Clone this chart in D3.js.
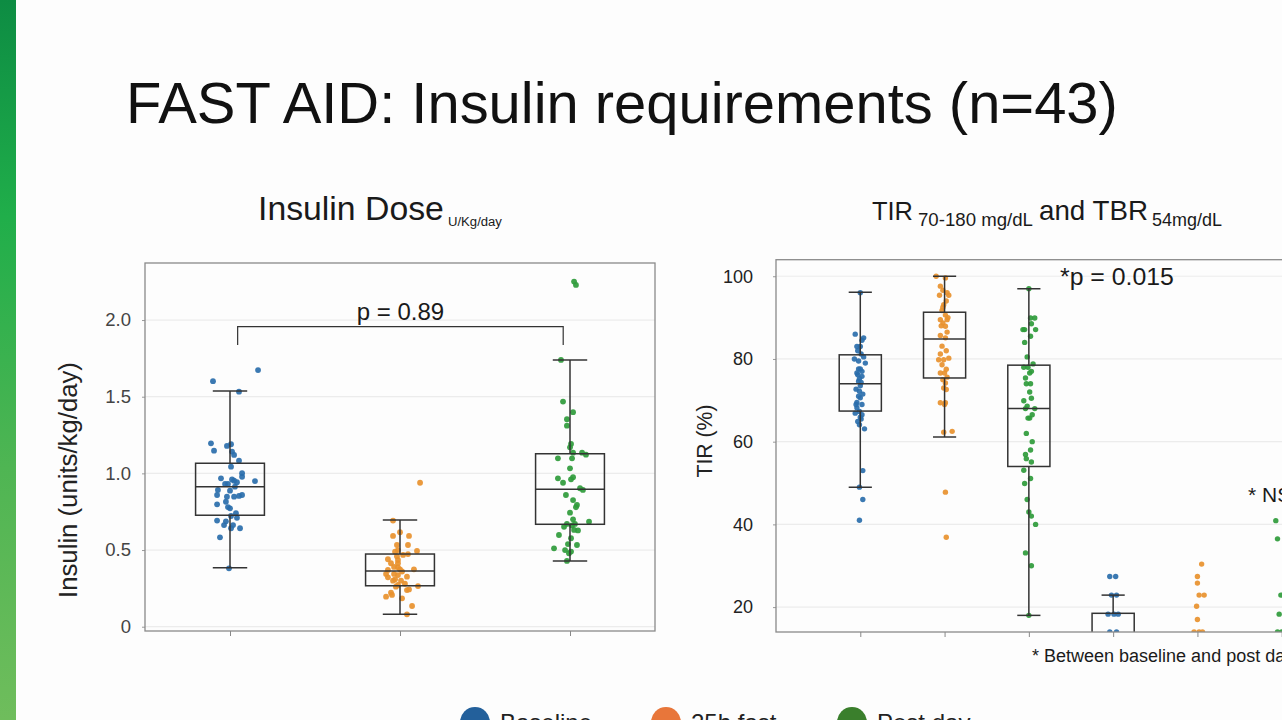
<!DOCTYPE html>
<html>
<head>
<meta charset="utf-8">
<script src="https://cdn.jsdelivr.net/npm/d3@7"></script>
<style>
  body { margin: 0; overflow: hidden; background: #fdfdfd; }
  svg { display: block; font-family: "Liberation Sans", Arial, sans-serif; }
</style>
</head>
<body>
<script>
// ---- data ----
const groups = ["Baseline", "25h fast", "Post day"];
const tirCats = ["TIR Baseline", "TIR 25h fast", "TIR Post day", "TBR Baseline", "TBR 25h fast", "TBR Post day"];
const insulinTicks = [0, 0.5, 1.0, 1.5, 2.0];
const tirTicks = [20, 40, 60, 80, 100];

// box stats: [low whisker, q1, median, q3, high whisker]
const insulinBoxes = [
    [0.385, 0.727, 0.913, 1.066, 1.537],
    [0.081, 0.267, 0.363, 0.474, 0.696],
    [0.429, 0.668, 0.896, 1.128, 1.740]
];
const tirBoxes = [
    [49.0, 67.4, 74.0, 81.0, 96.1],
    [61.1, 75.4, 84.8, 91.3, 100],
    [18.0, 54.0, 68.0, 78.5, 97.0],
    [0, 5, 12, 18.5, 22.9],
    [0, 2, 6, 10, 13],
    [0, 2, 6, 10, 13]
];

// points: [value, jitter as share of category step]
const insulinBaseline = [[1.674, .165], [1.601, -.10], [1.533, .053], [1.196, -.112], [1.148, -.094], [1.179, -.018], [1.190, .006], [1.142, .012], [1.120, .024], [1.083, .053], [1.044, .006], [1.001, .071], [0.978, .071], [0.968, -.053], [0.950, .147], [0.931, -.029], [0.931, -.012], [0.952, .024], [0.942, .041], [0.913, .029], [0.892, -.071], [0.887, 0], [0.859, -.076], [0.859, .071], [0.853, .053], [0.848, .024], [0.848, -.018], [0.815, -.024], [0.798, -.076], [0.772, 0], [0.740, .035], [0.722, .006], [0.692, -.076], [0.687, -.024], [0.663, -.035], [0.663, .018], [0.642, .006], [0.642, .059], [0.583, -.059], [0.381, -.006], [0.780, -.012], [0.710, .041], [0.960, .012]];
const insulinFast = [[0.939, .118], [0.692, -.041], [0.616, 0], [0.592, -.041], [0.592, .053], [0.533, -.018], [0.533, .047], [0.500, -.012], [0.489, -.029], [0.494, .1], [0.474, .047], [0.468, .018], [0.440, -.071], [0.435, -.012], [0.414, -.053], [0.414, -.012], [0.387, -.012], [0.374, 0], [0.374, .082], [0.344, -.082], [0.344, -.035], [0.337, -.012], [0.326, .041], [0.322, -.071], [0.309, -.029], [0.300, .006], [0.272, -.012], [0.265, .106], [0.261, -.024], [0.239, .041], [0.243, .053], [0.222, -.053], [0.207, -.047], [0.196, -.082], [0.185, .012], [0.135, .071], [0.081, .041], [0.39, -.035], [0.36, .012], [0.37, -.071], [0.46, -.018], [0.28, .029], [0.30, -.041]];
const insulinPost = [[2.251, .024], [2.229, .035], [1.740, -.053], [1.468, -.041], [1.399, .018], [1.353, -.018], [1.311, -.018], [1.192, .006], [1.170, 0], [1.135, .018], [1.135, .071], [1.122, .094], [1.098, -.071], [1.098, .012], [1.033, 0], [0.975, .018], [0.961, .006], [0.968, -.071], [0.939, -.041], [0.903, .059], [0.892, .076], [0.859, -.024], [0.826, .018], [0.794, .041], [0.779, .035], [0.744, 0], [0.700, .018], [0.685, .112], [0.670, -.018], [0.652, -.035], [0.660, .012], [0.631, .024], [0.628, .047], [0.598, -.065], [0.577, .006], [0.539, -.012], [0.533, .041], [0.511, -.094], [0.500, -.029], [0.479, -.006], [0.429, -.018], [0.490, .006], [0.670, .029]];

const tirBaseline = [[96.0, 0], [86.0, -.06], [85.1, .04], [83.0, -.04], [83.0, 0], [81.2, .01], [80.0, -.07], [79.0, .06], [77.6, -.02], [77.6, 0], [76.6, -.04], [75.8, .02], [74.6, -.02], [73.5, 0], [72.7, -.05], [72.2, -.01], [71.5, .03], [70.6, 0], [69.0, .02], [68.2, -.04], [67.3, -.01], [66.9, -.06], [65.9, 0], [64.9, -.03], [64.1, -.01], [63.1, .05], [53.0, .03], [49.0, -.01], [46.0, .03], [41.0, -.01], [79.5, -.02], [77.0, .02], [75.2, -.01], [74.3, .01], [69.5, -.04], [66.5, .02], [80.5, .04], [82.0, -.03], [84.5, .02], [71.0, -.02], [69.0, -.05], [65.5, .01], [76.2, -.03]];
const tirFast = [[100, -.10], [99.6, .01], [97.6, -.05], [96.6, -.02], [96.0, .03], [95.4, -.06], [95.4, .05], [93.1, -.01], [91.7, -.03], [90.6, .01], [89.5, -.05], [89.5, .03], [88.7, -.02], [87.9, .01], [85.7, -.05], [85.1, .01], [83.1, -.03], [81.2, -.05], [79.8, -.07], [79.8, -.01], [80.2, .05], [78.6, -.03], [76.6, -.05], [76.6, 0], [75.6, .03], [75.0, -.02], [74.2, .01], [72.6, .02], [69.4, -.05], [69.4, .01], [69.0, 0], [62.3, -.01], [62.5, .09], [47.8, .01], [36.9, .02], [90.0, .04], [88.0, -.04], [82.0, .02], [77.5, .02], [73.0, -.01], [86.5, .03], [92.5, -.02], [94.0, .02]];
const tirPost = [[97.0, 0], [89.9, .02], [89.9, .07], [87.1, -.05], [87.1, -.07], [87.1, .08], [84.0, -.05], [78.8, .05], [78.0, -.06], [78.0, -.01], [76.6, .01], [74.0, -.03], [74.0, .02], [69.9, -.06], [68.0, -.04], [68.0, .07], [65.7, .01], [65.7, -.01], [60.0, .04], [56.9, -.04], [55.9, -.03], [55.1, .03], [53.1, -.06], [51.1, .02], [49.9, -.05], [43.0, 0], [42.0, .03], [40.0, .08], [33.1, -.04], [30.0, .03], [18.0, 0], [88.5, .03], [80.5, -.02], [77.0, .03], [75.4, -.04], [72.0, .01], [68.6, -.02], [66.5, .04], [62.0, -.03], [58.0, .02], [46.0, -.02], [70.5, .03], [85.5, .02]];
const tbrBaseline = [[27.4, -.04], [27.4, .03], [22.9, -.02], [22.9, .04], [18.3, -.06], [18.3, .01], [18.3, .06], [14.0, -.04], [14.0, .04]];
const tbrFast = [[30.4, .05], [27.4, 0], [25.8, 0], [22.9, .02], [22.9, .08], [20.2, -.01], [17.0, 0], [14.0, -.04], [14.0, .02], [14.0, .06]];
const tbrPost = [[40.9, -.07], [36.5, -.05], [22.9, -.01], [18.3, -.03], [14.0, -.05], [14.0, 0]];

const dotColors = ["#2a6eab", "#e8912e", "#2f9b3b"];
const legendColors = ["#23609b", "#e8763a", "#3a7f2c"];

const W = 1282, H = 720;
const svg = d3.select("body").append("svg").attr("width", W).attr("height", H);

// green stripe at the left edge
const grad = svg.append("defs").append("linearGradient")
    .attr("id", "stripe").attr("x1", 0).attr("y1", 0).attr("x2", 0).attr("y2", 1);
[["0%", "#0d8c43"], ["30%", "#20ae4a"], ["65%", "#4fb553"], ["100%", "#6fbd5c"]].forEach(s => {
    grad.append("stop").attr("offset", s[0]).attr("stop-color", s[1]);
});
svg.append("rect").attr("width", 16).attr("height", H).attr("fill", "url(#stripe)");

// squeeze or stretch a text so it spans the width seen on the slide
function fit(sel, width) {
    const w = sel.node().getComputedTextLength();
    const fs = parseFloat(sel.attr("font-size"));
    sel.attr("font-size", fs * width / w);
    return sel;
}

function txt(x, y, s, size, opts = {}) {
    const t = svg.append("text").attr("x", x).attr("y", y).attr("font-size", size)
        .attr("fill", opts.fill || "#1a1a1a").text(s);
    if (opts.anchor) t.attr("text-anchor", opts.anchor);
    if (opts.width) fit(t, opts.width);
    return t;
}

// title and panel headings
txt(126, 123, "FAST AID: Insulin requirements (n=43)", 58, { fill: "#111", width: 992 });
txt(258, 220, "Insulin Dose", 26, { width: 186 });
txt(448, 226, "U/Kg/day", 16, { width: 54 });
txt(872, 220, "TIR", 26, { width: 41 });
txt(918, 226, "70-180 mg/dL", 16, { width: 115 });
txt(1039, 220, "and TBR", 26, { width: 109 });
txt(1152, 226, "54mg/dL", 16, { width: 70 });

// one boxplot panel
function panel(cfg) {
    const { x, y, boxFrac, boxes, series, id } = cfg;
    const step = x.step();
    const [x0, x1] = x.range();
    const [y0, y1] = y.range();
    const g = svg.append("g");

    svg.select("defs").append("clipPath").attr("id", id)
        .append("rect").attr("x", x0).attr("y", y1).attr("width", x1 - x0).attr("height", y0 - y1);

    // grid
    g.selectAll(".grid").data(cfg.ticks).enter().append("line")
        .attr("x1", x0).attr("x2", x1)
        .attr("y1", d => y(d)).attr("y2", d => y(d))
        .attr("stroke", "#ececec").attr("stroke-width", 1.2);

    // y axis
    const ya = g.append("g").attr("transform", `translate(${x0},0)`)
        .call(d3.axisLeft(y).tickValues(cfg.ticks).tickFormat(cfg.fmt).tickSize(cfg.tickSize).tickPadding(cfg.tickPad));
    ya.select(".domain").remove();
    ya.selectAll("line").attr("stroke", "#999");
    ya.selectAll("text").attr("font-size", cfg.tickFont).attr("fill", cfg.tickFill)
        .attr("font-family", "Liberation Sans, Arial, sans-serif");

    // x ticks, no labels
    const xa = g.append("g").attr("transform", `translate(0,${y0})`)
        .call(d3.axisBottom(x).tickSize(5).tickFormat(""));
    xa.select(".domain").remove();
    xa.selectAll("line").attr("stroke", "#888");

    const plot = g.append("g").attr("clip-path", `url(#${id})`);

    // points
    series.forEach((pts, i) => {
        plot.selectAll(null).data(pts).enter().append("circle")
            .attr("cx", d => x(x.domain()[i]) + d[1] * step)
            .attr("cy", d => y(d[0]))
            .attr("r", cfg.dotR)
            .attr("fill", dotColors[i % 3])
            .attr("opacity", 0.92);
    });

    // boxes on top
    const bw = boxFrac * step;
    boxes.forEach((b, i) => {
        const cx = x(x.domain()[i]);
        const bg = plot.append("g").attr("stroke", "#333").attr("stroke-width", 1.5).attr("fill", "none");
        bg.append("line").attr("x1", cx).attr("x2", cx).attr("y1", y(b[0])).attr("y2", y(b[1]));
        bg.append("line").attr("x1", cx).attr("x2", cx).attr("y1", y(b[3])).attr("y2", y(b[4]));
        bg.append("line").attr("x1", cx - bw * cfg.capFrac / 2).attr("x2", cx + bw * cfg.capFrac / 2)
            .attr("y1", y(b[0])).attr("y2", y(b[0]));
        bg.append("line").attr("x1", cx - bw * cfg.capFrac / 2).attr("x2", cx + bw * cfg.capFrac / 2)
            .attr("y1", y(b[4])).attr("y2", y(b[4]));
        bg.append("rect").attr("x", cx - bw / 2).attr("width", bw)
            .attr("y", y(b[3])).attr("height", y(b[1]) - y(b[3]));
        bg.append("line").attr("x1", cx - bw / 2).attr("x2", cx + bw / 2)
            .attr("y1", y(b[2])).attr("y2", y(b[2]));
    });

    // frame
    g.append("rect").attr("x", x0).attr("y", y1).attr("width", x1 - x0).attr("height", y0 - y1)
        .attr("fill", "none").attr("stroke", "#8a8a8a").attr("stroke-width", 1.3);
    return g;
}

// left panel: insulin dose
const insulinX = d3.scalePoint().domain(groups).range([145, 655]).padding(0.5);
const insulinY = d3.scaleLinear().domain([-0.028, 2.372]).range([631, 263]);
panel({
    id: "clipA", x: insulinX, y: insulinY, ticks: insulinTicks,
    fmt: d => d === 0 ? "0" : d3.format(".1f")(d),
    tickSize: 3, tickPad: 11, tickFont: 18.5, tickFill: "#444",
    boxFrac: 0.405, capFrac: 0.5, dotR: 2.9,
    boxes: insulinBoxes, series: [insulinBaseline, insulinFast, insulinPost]
});

// bracket and p value
const bx0 = insulinX(groups[0]) + 0.045 * insulinX.step();
const bx1 = insulinX(groups[2]) - 0.04 * insulinX.step();
svg.append("path")
    .attr("d", `M${bx0},${insulinY(1.838)}V${insulinY(1.957)}H${bx1}V${insulinY(1.838)}`)
    .attr("fill", "none").attr("stroke", "#333").attr("stroke-width", 1.2);
txt((bx0 + bx1) / 2, insulinY(2.0), "p = 0.89", 24, { anchor: "middle" });

svg.append("text").attr("transform", "translate(77,480) rotate(-90)")
    .attr("text-anchor", "middle").attr("font-size", 22).attr("fill", "#222")
    .text("Insulin (units/kg/day)").call(t => fit(t, 236));

// right panel: TIR and TBR
const tirX = d3.scalePoint().domain(tirCats).range([776, 1366]).padding(1);
const tirY = d3.scaleLinear().domain([13.98, 104.0]).range([632, 259.7]);
panel({
    id: "clipB", x: tirX, y: tirY, ticks: tirTicks,
    fmt: d3.format("d"),
    tickSize: 3, tickPad: 20, tickFont: 18, tickFill: "#222",
    boxFrac: 0.5, capFrac: 0.55, dotR: 2.7,
    boxes: tirBoxes, series: [tirBaseline, tirFast, tirPost, tbrBaseline, tbrFast, tbrPost]
});

svg.append("text").attr("transform", "translate(712,441) rotate(-90)")
    .attr("text-anchor", "middle").attr("font-size", 21).attr("fill", "#222")
    .text("TIR (%)").call(t => fit(t, 73));

// notes run past the right edge, as on the slide
txt(1060, 285, "*p = 0.015", 24, { width: 114 });
txt(1248, 502, "* NS", 21);
txt(1032, 662, "* Between baseline and post day", 18);

// legend (cut by the bottom edge, as on the slide)
const legendX = [475, 666, 852];
groups.forEach((gname, i) => {
    svg.append("circle").attr("cx", legendX[i]).attr("cy", 722).attr("r", 15).attr("fill", legendColors[i]);
    txt(legendX[i] + 25, 731, gname, 24, { fill: "#222" });
});
</script>
</body>
</html>
